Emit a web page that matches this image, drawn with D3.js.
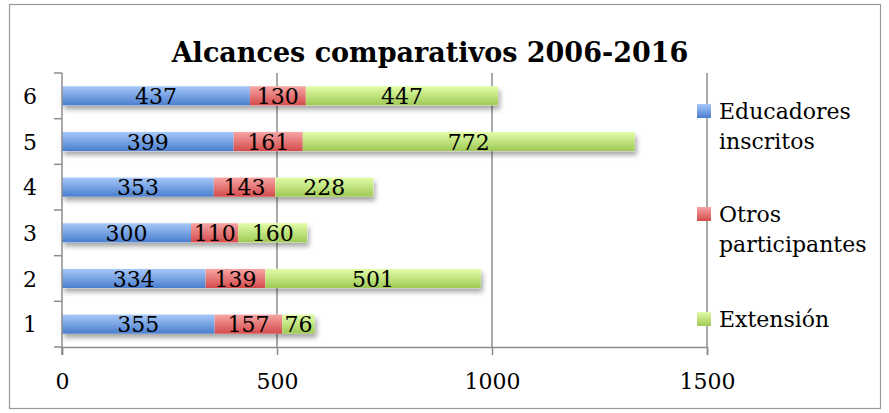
<!DOCTYPE html>
<html>
<head>
<meta charset="utf-8">
<script src="https://cdn.jsdelivr.net/npm/d3@7"></script>
<style>
  body { margin: 0; background: #fff; }
  text { font-family: "DejaVu Serif", serif; fill: #000; }
</style>
</head>
<body>
<script>
//chart data
var categories = ["1", "2", "3", "4", "5", "6"];
var seriesNames = ["Educadores inscritos", "Otros participantes", "Extensión"];
var educadores = [355, 334, 300, 353, 399, 437];
var otros = [157, 139, 110, 143, 161, 130];
var extension = [76, 501, 160, 228, 772, 447];
var xTicks = [0, 500, 1000, 1500];

//legend lines (wrapped like the original)
var legendLines = [["Educadores", "inscritos"], ["Otros", "participantes"], ["Extensión"]];

var width = 889,
    height = 413;

var svg = d3.select("body")
    .append("svg")
    .attr("width", width)
    .attr("height", height);

//gradients and shadow
var defs = svg.append("defs");
var grads = [["#a6c8f9", "#4a7ecd"], ["#f7a5a5", "#d44a4a"], ["#e2fda8", "#9fc955"]];
grads.forEach(function(g, i){
    var lg = defs.append("linearGradient")
        .attr("id", "grad" + i)
        .attr("x1", 0).attr("y1", 0).attr("x2", 0).attr("y2", 1);
    lg.append("stop").attr("offset", "0%").attr("stop-color", g[0]);
    lg.append("stop").attr("offset", "100%").attr("stop-color", g[1]);
});
var f = defs.append("filter").attr("id", "shadow")
    .attr("x", "-5%").attr("y", "-30%").attr("width", "115%").attr("height", "190%");
f.append("feDropShadow")
    .attr("dx", 2).attr("dy", 4).attr("stdDeviation", 2.5)
    .attr("flood-color", "#000").attr("flood-opacity", 0.35);

//outer frame
svg.append("rect")
    .attr("x", 9.5).attr("y", 4.5)
    .attr("width", 871).attr("height", 404)
    .attr("fill", "none")
    .attr("stroke", "#999")
    .attr("stroke-width", 1.2);

//title
svg.append("text")
    .attr("x", 430).attr("y", 62)
    .attr("text-anchor", "middle")
    .style("font-weight", "bold")
    .style("font-size", "27px")
    .text("Alcances comparativos 2006-2016");

//scales
var x = d3.scaleLinear().domain([0, 1500]).range([62, 707]);
var y = d3.scaleBand().domain(categories.slice().reverse()).range([73, 347]).paddingInner(0.58).paddingOuter(0.29);

//gridlines
svg.selectAll(".grid")
    .data(xTicks.slice(1))
    .enter()
    .append("line")
    .attr("class", "grid")
    .attr("x1", function(d){ return x(d); })
    .attr("x2", function(d){ return x(d); })
    .attr("y1", 73).attr("y2", 347)
    .attr("stroke", "#8c8c8c")
    .attr("stroke-width", 1.5);

//stack data
var rows = categories.map(function(c, i){
    return { cat: c, s0: educadores[i], s1: otros[i], s2: extension[i] };
});
var stack = d3.stack().keys(["s0", "s1", "s2"])(rows);

//bars with shadow
var barGroup = svg.append("g");
barGroup.selectAll(".shadowbar")
    .data(rows)
    .enter()
    .append("rect")
    .attr("x", x(0))
    .attr("y", function(d){ return y(d.cat); })
    .attr("width", function(d){ return x(d.s0 + d.s1 + d.s2) - x(0); })
    .attr("height", y.bandwidth())
    .attr("fill", "#fff")
    .attr("filter", "url(#shadow)");

stack.forEach(function(layer, i){
    barGroup.selectAll(".bar" + i)
        .data(layer)
        .enter()
        .append("rect")
        .attr("x", function(d){ return x(d[0]); })
        .attr("y", function(d){ return y(d.data.cat); })
        .attr("width", function(d){ return x(d[1]) - x(d[0]); })
        .attr("height", y.bandwidth())
        .attr("fill", "url(#grad" + i + ")");
});

//value labels
stack.forEach(function(layer, i){
    svg.selectAll(".lab" + i)
        .data(layer)
        .enter()
        .append("text")
        .attr("x", function(d){ return (x(d[0]) + x(d[1])) / 2; })
        .attr("y", function(d){ return y(d.data.cat) + y.bandwidth() / 2 + 8; })
        .attr("text-anchor", "middle")
        .style("font-size", "22px")
        .text(function(d){ return d[1] - d[0]; });
});

//x axis
var xAxis = svg.append("g")
    .attr("transform", "translate(0,347)")
    .call(d3.axisBottom(x).tickValues(xTicks).tickFormat(d3.format("d")).tickSize(8).tickPadding(18));
xAxis.select(".domain").attr("stroke", "#8c8c8c").attr("stroke-width", 1.5);
xAxis.selectAll(".tick line").attr("stroke", "#8c8c8c").attr("stroke-width", 1.5);
xAxis.selectAll(".tick text").style("font-size", "22px").style("font-family", "DejaVu Serif");

//y axis with ticks between categories
svg.append("line")
    .attr("x1", 62).attr("x2", 62).attr("y1", 73).attr("y2", 355)
    .attr("stroke", "#8c8c8c").attr("stroke-width", 1.5);
var bounds = categories.map(function(c){ return y(c) - y.step() * y.paddingInner() / 2; });
bounds.push(347);
svg.selectAll(".ytick")
    .data(bounds)
    .enter()
    .append("line")
    .attr("x1", 54).attr("x2", 62)
    .attr("y1", function(d){ return d; })
    .attr("y2", function(d){ return d; })
    .attr("stroke", "#8c8c8c").attr("stroke-width", 1.5);
svg.selectAll(".ylab")
    .data(categories)
    .enter()
    .append("text")
    .attr("x", 37)
    .attr("y", function(d){ return y(d) + y.bandwidth() / 2 + 8; })
    .attr("text-anchor", "end")
    .style("font-size", "22px")
    .text(function(d){ return d; });

//legend
var legendY = [111, 214, 319];
seriesNames.forEach(function(name, i){
    svg.append("rect")
        .attr("x", 697).attr("y", legendY[i] - 7)
        .attr("width", 14).attr("height", 14)
        .attr("fill", "url(#grad" + i + ")");
    var t = svg.append("text")
        .attr("x", 719).attr("y", legendY[i] + 8)
        .style("font-size", "22px");
    legendLines[i].forEach(function(line, j){
        t.append("tspan")
            .attr("x", 719)
            .attr("dy", j == 0 ? 0 : 30)
            .text(line);
    });
});
</script>
</body>
</html>
